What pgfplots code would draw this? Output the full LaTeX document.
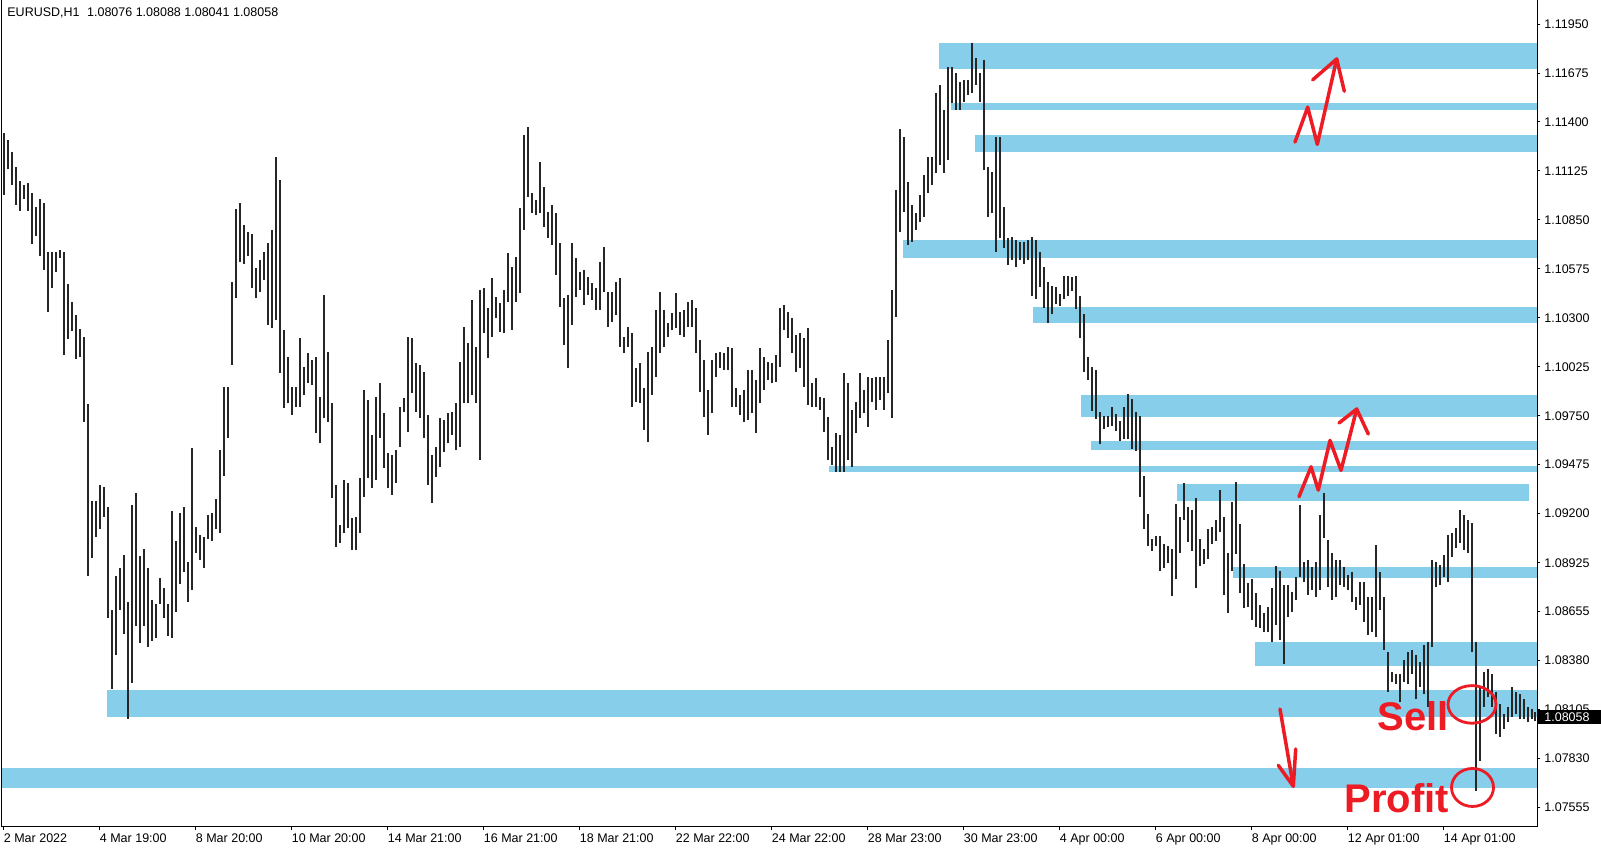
\documentclass[border=0pt]{standalone}
\usepackage{pgfplots}
\pgfplotsset{compat=1.18}
\usepackage{pgfplotstable}
\usepackage{fontspec}
\setmainfont{Liberation Sans}
\definecolor{band}{RGB}{135,206,235}
\definecolor{annot}{RGB}{237,28,36}
\newcommand\tf{\fontsize{6.25pt}{7.5pt}\selectfont}

\pgfplotstableread{
x hi lo
1 1.11339 1.10991
3 1.11302 1.11135
5 1.11235 1.11047
7 1.11147 1.10936
9 1.11069 1.10903
11 1.11047 1.10969
13 1.11058 1.10903
15 1.11002 1.10714
17 1.10925 1.10759
19 1.10969 1.10648
21 1.10947 1.10570
23 1.10670 1.10337
25 1.10670 1.10470
27 1.10670 1.10559
29 1.10681 1.10637
31 1.10670 1.10093
33 1.10493 1.10182
35 1.10393 1.10227
37 1.10315 1.10071
39 1.10238 1.10082
41 1.10193 1.09717
43 1.09816 1.08852
45 1.09273 1.08952
47 1.09273 1.09074
49 1.09362 1.09118
51 1.09351 1.09185
53 1.09240 1.08619
55 1.08664 1.08220
57 1.08852 1.08409
59 1.08896 1.08664
61 1.08974 1.08530
63 1.08708 1.08054
65 1.09251 1.08253
67 1.09317 1.08575
69 1.08963 1.08475
71 1.09007 1.08575
73 1.08896 1.08453
75 1.08719 1.08486
77 1.08697 1.08508
79 1.08841 1.08697
81 1.08786 1.08619
83 1.08697 1.08519
85 1.09218 1.08508
87 1.09052 1.08652
89 1.09207 1.08808
91 1.09240 1.08874
93 1.08930 1.08708
95 1.09572 1.08774
97 1.09129 1.08985
99 1.09085 1.08941
101 1.09074 1.08896
103 1.09196 1.09063
105 1.09207 1.09052
107 1.09284 1.09118
109 1.09561 1.09096
111 1.09916 1.09417
113 1.09916 1.09628
115 1.10504 1.10038
117 1.10914 1.10415
119 1.10947 1.10614
121 1.10825 1.10603
123 1.10781 1.10648
125 1.10770 1.10470
127 1.10580 1.10411
129 1.10627 1.10449
131 1.10673 1.10514
133 1.10720 1.10262
135 1.10795 1.10243
137 1.11206 1.10290
139 1.11075 1.09991
141 1.10234 1.09794
143 1.10084 1.09822
145 1.09916 1.09757
147 1.09916 1.09804
149 1.10187 1.09804
151 1.10028 1.09869
153 1.10103 1.09935
155 1.10066 1.09925
157 1.10084 1.09654
159 1.09860 1.09598
161 1.10430 1.09738
163 1.10112 1.09720
165 1.09822 1.09289
167 1.09364 1.09018
169 1.09140 1.09037
171 1.09392 1.09093
173 1.09374 1.09121
175 1.09177 1.09000
177 1.09187 1.09000
179 1.09402 1.09093
181 1.09897 1.09299
183 1.09841 1.09402
185 1.09645 1.09345
187 1.09860 1.09392
189 1.09935 1.09626
191 1.09766 1.09458
193 1.09542 1.09345
195 1.09533 1.09308
197 1.09561 1.09374
199 1.09804 1.09579
201 1.09850 1.09776
203 1.10196 1.09664
205 1.10187 1.09879
207 1.10047 1.09776
209 1.10038 1.09738
211 1.10000 1.09626
213 1.09757 1.09364
215 1.09533 1.09261
217 1.09579 1.09411
219 1.09738 1.09467
221 1.09729 1.09551
223 1.09766 1.09598
225 1.09776 1.09645
227 1.09822 1.09561
229 1.10056 1.09579
231 1.10253 1.09822
233 1.10159 1.09822
235 1.10402 1.09869
237 1.10140 1.09822
239 1.10458 1.09505
241 1.10468 1.10215
243 1.10355 1.10075
245 1.10524 1.10196
247 1.10421 1.10299
249 1.10383 1.10224
251 1.10458 1.10215
253 1.10664 1.10393
255 1.10589 1.10234
257 1.10645 1.10392
259 1.10916 1.10439
261 1.11327 1.10794
263 1.11374 1.10981
265 1.11000 1.10888
267 1.10963 1.10878
269 1.11178 1.10888
271 1.11037 1.10813
273 1.10897 1.10748
275 1.10935 1.10710
277 1.10888 1.10542
279 1.10720 1.10364
281 1.10411 1.10149
283 1.10430 1.10018
285 1.10720 1.10261
287 1.10635 1.10420
289 1.10561 1.10458
291 1.10570 1.10374
293 1.10533 1.10430
295 1.10495 1.10402
297 1.10467 1.10346
299 1.10617 1.10346
301 1.10701 1.10448
303 1.10448 1.10252
305 1.10448 1.10280
307 1.10504 1.10317
309 1.10523 1.10140
311 1.10196 1.10102
313 1.10252 1.10140
315 1.10215 1.09803
317 1.10018 1.09831
319 1.10046 1.09822
321 1.09906 1.09672
323 1.10112 1.09607
325 1.10140 1.09869
327 1.10345 1.09971
329 1.10448 1.10102
331 1.10345 1.10140
333 1.10271 1.10196
335 1.10327 1.10233
337 1.10439 1.10243
339 1.10336 1.10205
341 1.10345 1.10196
343 1.10392 1.10252
345 1.10402 1.10252
347 1.10355 1.10102
349 1.10177 1.09887
351 1.10065 1.09747
353 1.09897 1.09644
355 1.10065 1.09766
357 1.10102 1.09971
359 1.10112 1.10018
361 1.10102 1.10009
363 1.10140 1.10009
365 1.10130 1.09803
367 1.09906 1.09803
369 1.09869 1.09756
371 1.09897 1.09719
373 1.10009 1.09728
375 1.10009 1.09766
377 1.09953 1.09654
379 1.10130 1.09822
381 1.10084 1.09897
383 1.10056 1.09953
385 1.10046 1.09934
387 1.10093 1.09943
389 1.10355 1.10027
391 1.10373 1.10233
393 1.10336 1.10186
395 1.10299 1.10102
397 1.10205 1.09999
399 1.10214 1.10018
401 1.10186 1.09915
403 1.10242 1.09812
405 1.09934 1.09803
407 1.09962 1.09803
409 1.09859 1.09784
411 1.09850 1.09663
413 1.09747 1.09504
415 1.09579 1.09476
417 1.09653 1.09438
419 1.09644 1.09438
421 1.09990 1.09438
423 1.09934 1.09504
425 1.09784 1.09466
427 1.09831 1.09653
429 1.09990 1.09738
431 1.09896 1.09766
433 1.09971 1.09691
435 1.09962 1.09831
437 1.09971 1.09784
439 1.09971 1.09840
441 1.09971 1.09784
443 1.10177 1.09878
445 1.10457 1.09738
447 1.11018 1.10308
449 1.11364 1.10785
451 1.11318 1.10897
453 1.11065 1.10710
455 1.10934 1.10729
457 1.10888 1.10794
459 1.10990 1.10841
461 1.11103 1.10869
463 1.11205 1.11000
465 1.11205 1.11046
467 1.11561 1.11112
469 1.11607 1.11159
471 1.11467 1.11112
473 1.11710 1.11187
475 1.11710 1.11505
477 1.11673 1.11467
479 1.11626 1.11467
481 1.11636 1.11514
483 1.11636 1.11551
485 1.11841 1.11561
487 1.11757 1.11607
489 1.11673 1.11514
491 1.11748 1.11131
493 1.11149 1.10869
495 1.11121 1.10888
497 1.11318 1.10672
499 1.11318 1.10747
501 1.10925 1.10691
503 1.10747 1.10598
505 1.10757 1.10626
507 1.10738 1.10588
509 1.10728 1.10626
511 1.10729 1.10606
513 1.10738 1.10625
515 1.10757 1.10426
517 1.10738 1.10407
519 1.10672 1.10473
521 1.10587 1.10359
523 1.10501 1.10274
525 1.10482 1.10321
527 1.10473 1.10378
529 1.10435 1.10369
531 1.10539 1.10407
533 1.10539 1.10426
535 1.10530 1.10454
537 1.10539 1.10350
539 1.10426 1.10189
541 1.10321 1.09999
543 1.10084 1.09952
545 1.10028 1.09781
547 1.10009 1.09734
549 1.09772 1.09592
551 1.09753 1.09677
553 1.09753 1.09687
555 1.09800 1.09696
557 1.09762 1.09668
559 1.09725 1.09611
561 1.09800 1.09620
563 1.09876 1.09620
565 1.09848 1.09564
567 1.09772 1.09554
569 1.09753 1.09298
571 1.09412 1.09118
573 1.09203 1.09023
575 1.09061 1.08995
577 1.09080 1.09023
579 1.09080 1.08881
581 1.09033 1.08900
583 1.09023 1.08929
585 1.09004 1.08739
587 1.09260 1.08834
589 1.09185 1.08985
591 1.09374 1.09166
593 1.09241 1.09042
595 1.09222 1.08995
597 1.09289 1.08787
599 1.09061 1.08910
601 1.09004 1.08919
603 1.09118 1.08948
605 1.09128 1.09033
607 1.09166 1.09052
609 1.09336 1.09099
611 1.09185 1.08749
613 1.08985 1.08644
615 1.09270 1.08881
617 1.09383 1.08976
619 1.09147 1.08758
621 1.08919 1.08673
623 1.08815 1.08682
625 1.08834 1.08607
627 1.08758 1.08569
629 1.08692 1.08559
631 1.08644 1.08540
633 1.08682 1.08540
635 1.08787 1.08483
637 1.08910 1.08578
639 1.08881 1.08493
641 1.08804 1.08358
643 1.08804 1.08623
645 1.08762 1.08651
647 1.08846 1.08720
649 1.09251 1.08846
651 1.08930 1.08818
653 1.08944 1.08748
655 1.08902 1.08776
657 1.08930 1.08734
659 1.09195 1.08776
661 1.09320 1.09069
663 1.09055 1.08790
665 1.08985 1.08720
667 1.08944 1.08734
669 1.08944 1.08804
671 1.08902 1.08790
673 1.08860 1.08776
675 1.08874 1.08706
677 1.08734 1.08665
679 1.08818 1.08692
681 1.08818 1.08595
683 1.08734 1.08525
685 1.08734 1.08539
687 1.09027 1.08511
689 1.08874 1.08665
691 1.08734 1.08441
693 1.08427 1.08204
695 1.08316 1.08260
697 1.08302 1.08246
699 1.08302 1.08148
701 1.08385 1.08260
703 1.08427 1.08246
705 1.08441 1.08302
707 1.08413 1.08162
709 1.08372 1.08232
711 1.08469 1.08190
713 1.08483 1.08120
715 1.08944 1.08455
717 1.08930 1.08790
719 1.08916 1.08804
721 1.08972 1.08846
723 1.09083 1.08818
725 1.09097 1.08958
727 1.09125 1.09013
729 1.09223 1.09041
731 1.09195 1.08999
733 1.09167 1.08985
735 1.09153 1.08427
737 1.08483 1.07646
739 1.08232 1.07813
741 1.08316 1.08120
743 1.08330 1.08176
745 1.08302 1.08120
747 1.08204 1.07967
749 1.08134 1.07953
751 1.08078 1.07995
753 1.08120 1.08037
755 1.08232 1.08065
757 1.08204 1.08079
759 1.08190 1.08051
761 1.08162 1.08051
763 1.08120 1.08037
765 1.08106 1.08051
766.5 1.08088 1.08041
}\bars

\begin{document}
\begin{tikzpicture}[x=1pt,y=1pt]
\path[use as bounding box] (-1pt,-11.65pt) rectangle (799.5pt,413.35pt);
\begin{axis}[
  at={(0pt,0pt)}, anchor=south west,
  scale only axis, width=767.5pt, height=413.35pt,
  xmin=0, xmax=767.5, ymin=1.07447, ymax=1.12085,
  axis x line*=bottom, axis y line*=right,
  axis line style={black, line width=0.5pt},
  tick align=outside, major tick length=1.5pt,
  tick style={black, line width=0.5pt},
  scaled x ticks=false, scaled y ticks=false,
  xtick={0.75,48.75,96.75,144.75,192.75,240.75,288.75,336.75,384.75,432.75,480.75,528.75,576.75,624.75,672.75,720.75},
  xticklabels={2 Mar 2022,4 Mar 19:00,8 Mar 20:00,10 Mar 20:00,14 Mar 21:00,16 Mar 21:00,18 Mar 21:00,22 Mar 22:00,24 Mar 22:00,28 Mar 23:00,30 Mar 23:00,4 Apr 00:00,6 Apr 00:00,8 Apr 00:00,12 Apr 01:00,14 Apr 01:00},
  xticklabel style={anchor=north west, inner sep=0pt, yshift=-1.6pt, font=\tf},
  ytick={1.07555,1.07830,1.08104,1.08379,1.08654,1.08928,1.09203,1.09478,1.09752,1.10027,1.10302,1.10577,1.10851,1.11126,1.11401,1.11675,1.11950},
  yticklabels={1.07555,1.07830,1.08105,1.08380,1.08655,1.08925,1.09200,1.09475,1.09750,1.10025,1.10300,1.10575,1.10850,1.11125,1.11400,1.11675,1.11950},
  yticklabel style={anchor=west, inner sep=0pt, xshift=2pt, font=\tf},
]
% zones
\addplot[fill=band, draw=none, forget plot] coordinates {(468.5,1.11696) (767.5,1.11696) (767.5,1.11842) (468.5,1.11842)};
\addplot[fill=band, draw=none, forget plot] coordinates {(474.5,1.11468) (767.5,1.11468) (767.5,1.11508) (474.5,1.11508)};
\addplot[fill=band, draw=none, forget plot] coordinates {(486.5,1.11234) (767.5,1.11234) (767.5,1.11327) (486.5,1.11327)};
\addplot[fill=band, draw=none, forget plot] coordinates {(450.5,1.10639) (767.5,1.10639) (767.5,1.10738) (450.5,1.10738)};
\addplot[fill=band, draw=none, forget plot] coordinates {(515.5,1.10271) (767.5,1.10271) (767.5,1.10364) (515.5,1.10364)};
\addplot[fill=band, draw=none, forget plot] coordinates {(539.5,1.09747) (767.5,1.09747) (767.5,1.09869) (539.5,1.09869)};
\addplot[fill=band, draw=none, forget plot] coordinates {(544.5,1.09560) (767.5,1.09560) (767.5,1.09611) (544.5,1.09611)};
\addplot[fill=band, draw=none, forget plot] coordinates {(413.5,1.09438) (767.5,1.09438) (767.5,1.09470) (413.5,1.09470)};
\addplot[fill=band, draw=none, forget plot] coordinates {(587.5,1.09276) (763.5,1.09276) (763.5,1.09369) (587.5,1.09369)};
\addplot[fill=band, draw=none, forget plot] coordinates {(615.5,1.08844) (767.5,1.08844) (767.5,1.08905) (615.5,1.08905)};
\addplot[fill=band, draw=none, forget plot] coordinates {(626.5,1.08350) (767.5,1.08350) (767.5,1.08485) (626.5,1.08485)};
\addplot[fill=band, draw=none, forget plot] coordinates {(52.5,1.08061) (767.5,1.08061) (767.5,1.08216) (52.5,1.08216)};
\addplot[fill=band, draw=none, forget plot] coordinates {(0,1.07662) (767.5,1.07662) (767.5,1.07778) (0,1.07778)};
% price bars (high-low)
\addplot[draw=none, mark=none, forget plot,
  error bars/.cd, y dir=plus, y explicit, error mark=none,
  error bar style={line width=0.7pt, black!85}]
  table[x=x, y=lo, y error plus expr=\thisrow{hi}-\thisrow{lo}] {\bars};
% red annotations
\addplot[annot, line width=1.75pt, mark=none, line join=round, line cap=round, forget plot] coordinates {(646.5,1.11288) (652.85,1.11484) (657.65,1.11275) (667.35,1.11754)};
\addplot[annot, line width=1.75pt, mark=none, line join=round, line cap=round, forget plot] coordinates {(655.35,1.11637) (667.35,1.11754) (671.15,1.11573)};
\addplot[annot, line width=1.75pt, mark=none, line join=round, line cap=round, forget plot] coordinates {(648.5,1.09298) (654.5,1.09466) (658.15,1.09335) (664,1.09614) (669.5,1.09446) (677.35,1.09790)};
\addplot[annot, line width=1.75pt, mark=none, line join=round, line cap=round, forget plot] coordinates {(668.5,1.09712) (677.35,1.09790) (683.15,1.09650)};
\addplot[annot, line width=1.75pt, mark=none, line join=round, line cap=round, forget plot] coordinates {(639,1.08107) (645.65,1.07674)};
\addplot[annot, line width=1.75pt, mark=none, line join=round, line cap=round, forget plot] coordinates {(638.15,1.07791) (645.65,1.07674) (646.85,1.07883)};
\draw[annot, line width=1.4pt] (axis cs:735,1.08133) ellipse [x radius=12pt, y radius=9.4pt];
\draw[annot, line width=1.4pt] (axis cs:735.25,1.07667) ellipse [x radius=10.5pt, y radius=9.5pt];
\node[anchor=base west, inner sep=0pt, text=annot, font=\bfseries\fontsize{20pt}{24pt}\selectfont] at (axis cs:687.5,1.07985) {Sell};
\node[anchor=base west, inner sep=0pt, text=annot, font=\bfseries\fontsize{20pt}{24pt}\selectfont] at (axis cs:671,1.07527) {Profit};
\end{axis}
\draw[black, line width=0.5pt] (0pt,0pt) -- (0pt,413.35pt);
\node[anchor=west, inner sep=0pt, font=\tf] at (2.5pt,406.85pt) {EURUSD,H1\hspace{0.6em}1.08076 1.08088 1.08041 1.08058};
\fill[black] (768pt,51.35pt) rectangle (799.5pt,58.35pt);
\node[anchor=west, inner sep=0pt, text=white, font=\tf] at (771pt,54.85pt) {1.08058};
\end{tikzpicture}
\end{document}
